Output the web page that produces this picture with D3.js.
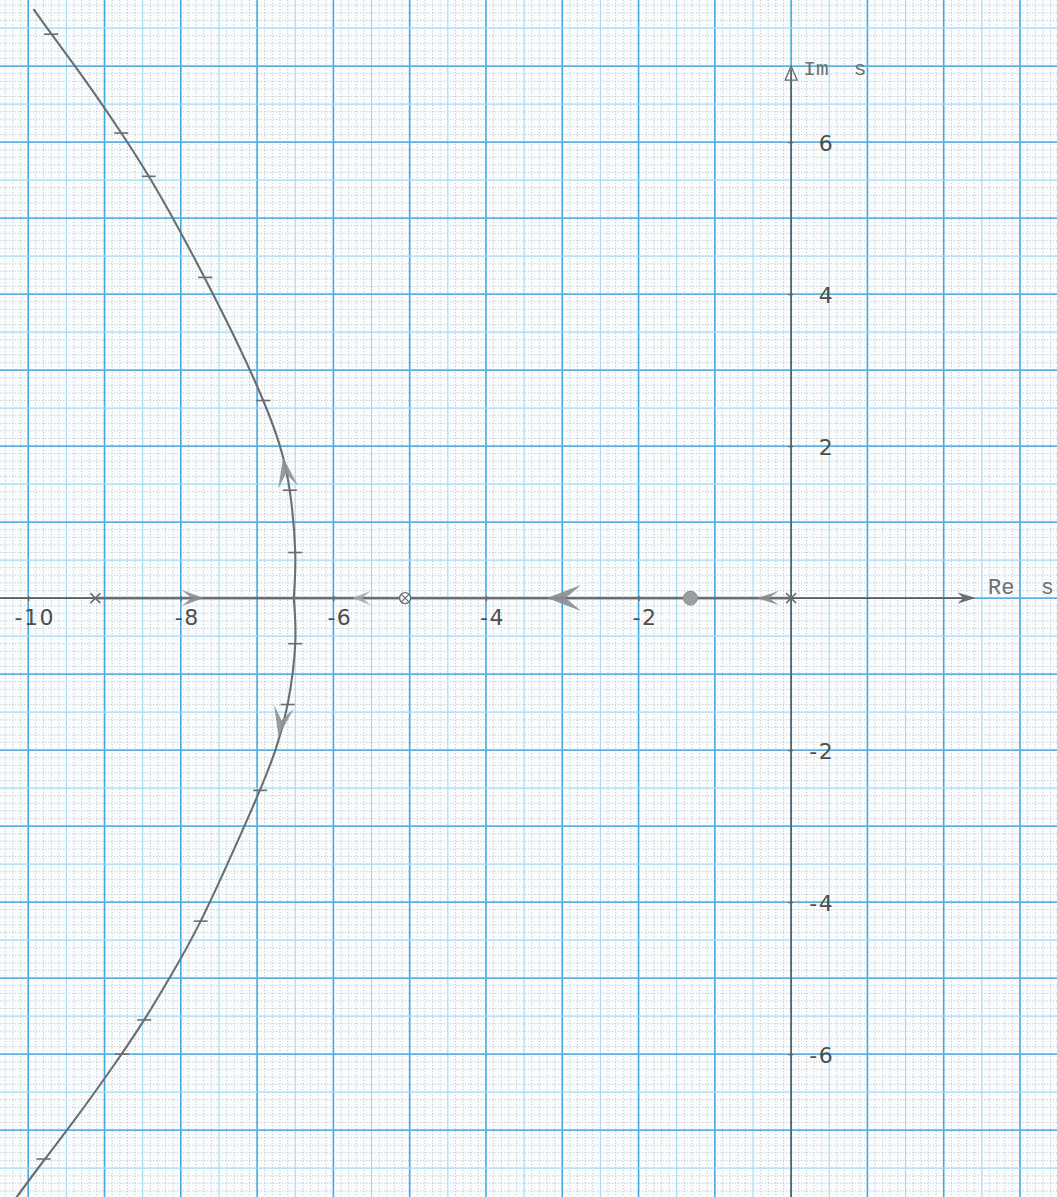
<!DOCTYPE html>
<html><head><meta charset="utf-8">
<script src="https://cdn.jsdelivr.net/npm/d3@7"></script>
<style>
html,body{margin:0;padding:0;background:#fafcfd;}
svg{display:block;}
</style></head>
<body>
<svg id="c" width="1057" height="1197"></svg>
<script>
// ---- data ----
const xTickValues = [-10, -8, -6, -4, -2];
const yTickValues = [6, 4, 2, -2, -4, -6];
const axisNames = ["Re  s", "Im  s"];
const poles = [0, -9.12];
const zeros = [-1.32];
const poleZero = [-5.06];           // ⊗ : pole and zero together
const realLocusSegment = [-9.12, 0];
const upperBranch = [[-6.52,0],[-6.5,0.6],[-6.57,1.4],[-6.7,2.0],[-6.92,2.6],[-7.28,3.4],[-7.68,4.2],[-8.05,4.9],[-8.42,5.55],[-8.78,6.12],[-9.23,6.78],[-9.68,7.4],[-9.93,7.75]];
const lowerBranch = [[-6.52,0],[-6.5,-0.6],[-6.6,-1.4],[-6.76,-2.0],[-6.96,-2.52],[-7.3,-3.3],[-7.74,-4.25],[-8.12,-4.95],[-8.48,-5.55],[-8.88,-6.15],[-9.38,-6.85],[-9.78,-7.38],[-10.18,-7.92]];
const upperTicks = [[-6.5,0.6],[-6.57,1.42],[-6.92,2.6],[-7.68,4.22],[-8.42,5.55],[-8.78,6.12],[-9.7,7.42]];
const lowerTicks = [[-6.5,-0.6],[-6.6,-1.4],[-6.96,-2.53],[-7.74,-4.25],[-8.48,-5.55],[-8.77,-6.0],[-9.8,-7.38]];
const arrowRe = [-7.7, -5.75, -3.2, -0.45];
const arrowReDir = [1, -1, -1, -1];
const arrowCurve = [{re:-6.66, im:1.85, dRe:-0.12, dIm:0.7}, {re:-6.72, im:-1.82, dRe:-0.13, dIm:-0.7}];

// ---- scales ----
const W = 1057, H = 1197;
const x = d3.scaleLinear().domain([-10.37, 3.485]).range([0, W]);
const y = d3.scaleLinear().domain([7.87, -7.88]).range([0, H]);
const svg = d3.select("#c");

// ---- graph paper ----
const grid = svg.append("g");
const fineX = d3.range(Math.ceil(-10.37*10), Math.floor(3.485*10)+1).map(i => i/10);
const fineY = d3.range(Math.ceil(-7.88*10), Math.floor(7.87*10)+1).map(i => i/10);
const isHalf = v => Math.abs(v*2 - Math.round(v*2)) < 1e-6;
const isInt = v => Math.abs(v - Math.round(v)) < 1e-6;
grid.selectAll("line.fx").data(fineX.filter(v => !isHalf(v))).join("line")
  .attr("x1", d => x(d)).attr("x2", d => x(d)).attr("y1", 0).attr("y2", H)
  .attr("stroke", "#aab5ba").attr("stroke-width", 0.7).attr("stroke-dasharray", "1.2,1.8");
grid.selectAll("line.fy").data(fineY.filter(v => !isHalf(v))).join("line")
  .attr("y1", d => y(d)).attr("y2", d => y(d)).attr("x1", 0).attr("x2", W)
  .attr("stroke", "#aab5ba").attr("stroke-width", 0.7).attr("stroke-dasharray", "1.2,1.8");
grid.selectAll("line.hx").data(fineX.filter(isHalf)).join("line")
  .attr("x1", d => x(d)).attr("x2", d => x(d)).attr("y1", 0).attr("y2", H)
  .attr("stroke", d => isInt(d) ? "#45a9e0" : "#a5d8f0").attr("stroke-width", d => isInt(d) ? 1.6 : 1.1);
grid.selectAll("line.hy").data(fineY.filter(isHalf)).join("line")
  .attr("y1", d => y(d)).attr("y2", d => y(d)).attr("x1", 0).attr("x2", W)
  .attr("stroke", d => isInt(d) ? "#5fb2df" : "#a5d8f0").attr("stroke-width", d => isInt(d) ? 1.6 : 1.1);

// ---- axes ----
const axCol = "#5a5d60";
const ax = svg.append("g");
ax.append("line").attr("x1", 0).attr("x2", x(2.4)).attr("y1", y(0)).attr("y2", y(0))
  .attr("stroke", axCol).attr("stroke-width", 1.6);
ax.append("line").attr("x1", x(0)).attr("x2", x(0)).attr("y1", y(6.95)).attr("y2", H)
  .attr("stroke", axCol).attr("stroke-width", 1.6);

const xAxis = d3.axisBottom(x).tickValues(xTickValues).tickSizeInner(-5).tickSizeOuter(0)
  .tickFormat(d => "-" + Math.abs(d));
const gx = svg.append("g").attr("transform", `translate(0,${y(0)+3})`).call(xAxis);
gx.select(".domain").remove();
gx.selectAll(".tick line").attr("stroke", axCol).attr("stroke-width", 1.2);
gx.selectAll(".tick text").attr("font-family", "DejaVu Sans, sans-serif").attr("font-size", 22)
  .attr("letter-spacing", 1.5).attr("fill", "#4e4e4e").attr("dy", "0.95em").attr("x", 6);

const yAxis = d3.axisRight(y).tickValues(yTickValues).tickSizeInner(5).tickSizeOuter(0)
  .tickFormat(d => d < 0 ? "-" + Math.abs(d) : String(d));
const gy = svg.append("g").attr("transform", `translate(${x(0)-3},0)`).call(yAxis);
gy.select(".domain").remove();
gy.selectAll(".tick line").attr("stroke", axCol).attr("stroke-width", 1.2);
gy.selectAll(".tick text").attr("font-family", "DejaVu Sans, sans-serif").attr("font-size", 22)
  .attr("letter-spacing", 1.5).attr("fill", "#4e4e4e").attr("text-anchor", "end").attr("x", 46).attr("dy", "0.36em");

// axis arrows and names
function arrowPath(L, Wd, notch) {
  return `M0,0 L${-L},${-Wd/2} L${-L*notch},0 L${-L},${Wd/2} Z`;
}
svg.append("path").attr("d", arrowPath(18, 11, 0.7))
  .attr("transform", `translate(${x(2.42)},${y(0)})`).attr("fill", "#6a6d70");
svg.append("path").attr("d", "M0,0 L-6,14 L6,14 Z")
  .attr("transform", `translate(${x(0)},${y(7.0)})`).attr("fill", "none").attr("stroke", "#6a6d70").attr("stroke-width", 1.3);
svg.append("text").attr("x", x(2.58)).attr("y", y(0)-4).text(axisNames[0])
  .attr("font-family", "Liberation Mono, monospace").attr("font-size", 22).attr("fill", "#707070")
  .style("white-space", "pre");
svg.append("text").attr("x", x(0.16)).attr("y", y(6.88)).text(axisNames[1])
  .attr("font-family", "Liberation Mono, monospace").attr("font-size", 21).attr("fill", "#707070")
  .style("white-space", "pre");

// ---- locus ----
const locCol = "#6b6e70";
svg.append("line").attr("x1", x(realLocusSegment[0])).attr("x2", x(realLocusSegment[1]))
  .attr("y1", y(0)).attr("y2", y(0)).attr("stroke", locCol).attr("stroke-width", 2.8).attr("opacity", 0.85);
const line = d3.line().x(d => x(d[0])).y(d => y(d[1])).curve(d3.curveNatural);
[upperBranch, lowerBranch].forEach(b => {
  svg.append("path").attr("d", line(b)).attr("fill", "none").attr("stroke", locCol).attr("stroke-width", 2.1);
});
svg.selectAll("line.ct").data(upperTicks.concat(lowerTicks)).join("line")
  .attr("x1", d => x(d[0]) - 7).attr("x2", d => x(d[0]) + 7)
  .attr("y1", d => y(d[1])).attr("y2", d => y(d[1]))
  .attr("stroke", locCol).attr("stroke-width", 1.6);

// real-axis arrows
const reSizes = [[22, 16], [18, 14], [34, 26], [22, 14]];
svg.selectAll("path.ra").data(arrowRe).join("path")
  .attr("d", (d, i) => arrowPath(reSizes[i][0], reSizes[i][1], 0.55))
  .attr("transform", (d, i) => `translate(${x(d)},${y(0)}) rotate(${arrowReDir[i] > 0 ? 0 : 180})`)
  .attr("fill", (d, i) => i === 1 ? "#a3a8ab" : "#888c8f").attr("opacity", 0.9);
// curve arrows
svg.selectAll("path.ca").data(arrowCurve).join("path")
  .attr("d", arrowPath(30, 20, 0.55))
  .attr("transform", d => {
    const ang = Math.atan2(y(d.im + d.dIm) - y(d.im), x(d.re + d.dRe) - x(d.re)) * 180 / Math.PI;
    return `translate(${x(d.re)},${y(d.im)}) rotate(${ang})`;
  })
  .attr("fill", "#8c9093").attr("opacity", 0.9);

// ---- poles and zeros ----
svg.selectAll("path.pole").data(poles).join("path")
  .attr("d", "M-5,-5 L5,5 M-5,5 L5,-5")
  .attr("transform", d => `translate(${x(d)},${y(0)})`)
  .attr("stroke", "#6a6d70").attr("stroke-width", 1.5).attr("fill", "none");
svg.selectAll("circle.zero").data(zeros).join("circle")
  .attr("cx", d => x(d)).attr("cy", y(0)).attr("r", 7)
  .attr("fill", "#9a9ea1").attr("stroke", "#8a8e91").attr("stroke-width", 1);
const pz = svg.selectAll("g.pz").data(poleZero).join("g")
  .attr("transform", d => `translate(${x(d)},${y(0)})`);
pz.append("circle").attr("r", 5.5).attr("fill", "#fafcfd").attr("stroke", "#6a6d70").attr("stroke-width", 1.4);
pz.append("path").attr("d", "M-4,-4 L4,4 M-4,4 L4,-4").attr("stroke", "#6a6d70").attr("stroke-width", 1.3);
</script>
</body></html>
